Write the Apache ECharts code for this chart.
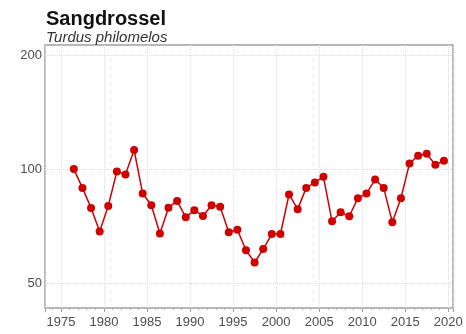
<!DOCTYPE html>
<html>
<head>
<meta charset="utf-8">
<script src="https://cdn.jsdelivr.net/npm/echarts@6/dist/echarts.min.js"></script>
<style>
  html, body { margin: 0; padding: 0; background: #fff; }
  #chart { width: 466px; height: 334px; }
</style>
</head>
<body>
<div id="chart"></div>
<script>
// Song thrush population index, one value per year (plotted at mid-year)
const years = [
  1976, 1977, 1978, 1979, 1980, 1981, 1982, 1983, 1984, 1985,
  1986, 1987, 1988, 1989, 1990, 1991, 1992, 1993, 1994, 1995,
  1996, 1997, 1998, 1999, 2000, 2001, 2002, 2003, 2004, 2005,
  2006, 2007, 2008, 2009, 2010, 2011, 2012, 2013, 2014, 2015,
  2016, 2017, 2018, 2019
];
const indexValues = [
  100, 89.2, 79.0, 68.4, 79.9, 98.6, 96.8, 112.3, 86.2, 80.3,
  67.6, 79.1, 82.4, 74.6, 77.9, 75.2, 80.3, 79.5, 68.1, 69.2,
  61.1, 56.7, 61.5, 67.4, 67.4, 85.7, 78.4, 89.2, 92.2, 95.4,
  72.8, 76.9, 75.1, 83.8, 86.2, 93.9, 89.2, 72.4, 83.8, 103.5,
  108.4, 109.8, 102.7, 105.2
];
const yTickValues = [50, 100, 200];

const titleText = 'Sangdrossel';
const subtitleText = 'Turdus philomelos';

const points = years.map((y, i) => [y + 0.5, indexValues[i]]);

const chart = echarts.init(document.getElementById('chart'), null, { renderer: 'canvas' });

const font = "'Liberation Sans', Arial, sans-serif";
const gridColor = '#dcdcdc';
const labelColor = '#4d4d4d';

chart.setOption({
  animation: false,
  backgroundColor: '#ffffff',
  title: [
    {
      text: titleText,
      left: 41, top: 4,
      textStyle: { fontFamily: font, fontSize: 20, fontWeight: 'bold', color: '#111' }
    },
    {
      text: subtitleText,
      left: 41, top: 25,
      textStyle: { fontFamily: font, fontSize: 15, fontStyle: 'italic', fontWeight: 'normal', color: '#333' }
    }
  ],
  grid: {
    left: 45, right: 13, top: 45, bottom: 26,
    show: true, borderColor: '#a0a0a0', borderWidth: 1.5, backgroundColor: '#fff'
  },
  xAxis: {
    type: 'value',
    min: 1973.15,
    max: 2020.55,
    splitNumber: 9,
    axisLine: { show: false },
    axisTick: { show: true, length: 4, lineStyle: { color: '#a0a0a0', width: 1 } },
    minorTick: { show: true, splitNumber: 5, length: 2, lineStyle: { color: '#b0b0b0' } },
    axisLabel: {
      fontFamily: font, fontSize: 13, color: labelColor, margin: 8,
      showMinLabel: false, showMaxLabel: false,
      formatter: v => (Math.abs(v % 5) < 1e-6 ? String(Math.round(v)) : '')
    },
    splitLine: { show: true, lineStyle: { color: gridColor, type: 'dotted', width: 1 } }
  },
  yAxis: {
    type: 'log',
    logBase: 2,
    min: 43,
    max: 212.5,
    axisLine: { show: false },
    axisTick: { show: false },
    axisLabel: { show: false },
    splitLine: { show: false }
  },
  series: [
    {
      // horizontal grid lines and their labels at 50 / 100 / 200
      type: 'line',
      data: [],
      z: 1,
      silent: true,
      markLine: {
        z: 1,
        silent: true,
        symbol: ['none', 'none'],
        lineStyle: { color: gridColor, type: 'dotted', width: 1 },
        label: {
          show: true, position: 'start', distance: 3,
          fontFamily: font, fontSize: 13, color: labelColor,
          formatter: p => String(p.value)
        },
        data: yTickValues.map(v => ({ yAxis: v }))
      }
    },
    {
      type: 'line',
      data: points,
      z: 3,
      symbol: 'circle',
      symbolSize: 8,
      showSymbol: true,
      lineStyle: { color: '#d00000', width: 1.5 },
      itemStyle: { color: '#d00000' }
    }
  ]
});
</script>
</body>
</html>
